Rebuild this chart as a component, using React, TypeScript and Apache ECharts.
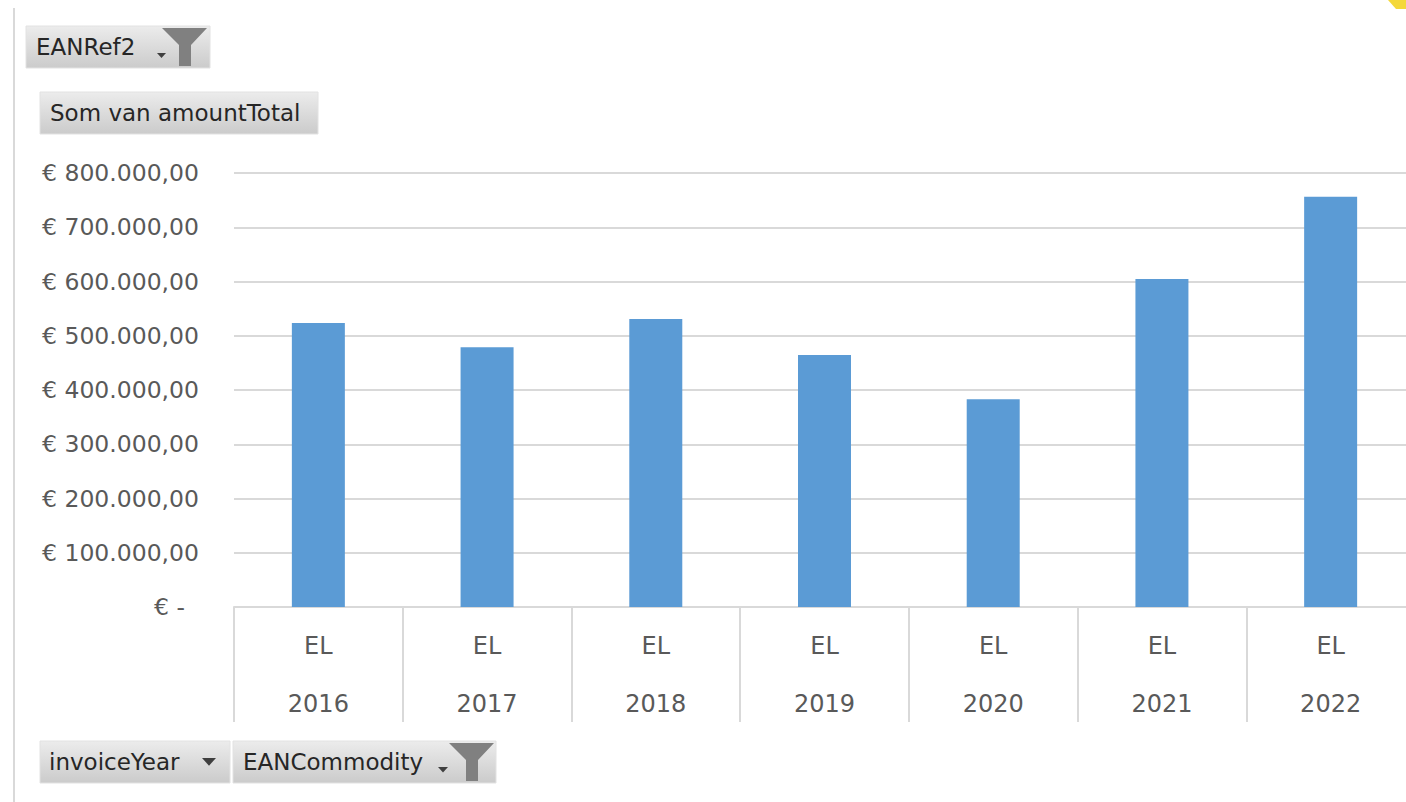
import React, { useEffect, useRef } from "react";
import * as echarts from "echarts";

const commodities = ["EL", "EL", "EL", "EL", "EL", "EL", "EL"];
const years = ["2016", "2017", "2018", "2019", "2020", "2021", "2022"];
const amountTotal = [523500, 479000, 531000, 464500, 383000, 604500, 756000];
const yTicks = { min: 0, max: 800000, interval: 100000 };

const FONT = "DejaVu Sans";

function fmtEuro(v: number): string {
  if (v === 0) return "{z|€ -}";
  const s = Math.round(v).toString().replace(/\B(?=(\d{3})+(?!\d))/g, ".");
  return "€ " + s + ",00";
}

function button(x: number, y: number, w: number, h: number, label: string, tx: number) {
  return [
    {
      type: "rect",
      shape: { x, y, width: w, height: h },
      style: {
        fill: new echarts.graphic.LinearGradient(0, 0, 0, 1, [
          { offset: 0, color: "#ececec" },
          { offset: 1, color: "#cbcbcb" },
        ]),
        stroke: "#e2e2e2",
        lineWidth: 1,
      },
    },
    {
      type: "text",
      x: tx,
      y: y + h / 2,
      style: {
        text: label,
        font: `23px "${FONT}"`,
        fill: "#262626",
        verticalAlign: "middle",
        align: "left",
      },
    },
  ];
}

function funnel(x: number, y: number) {
  return {
    type: "polygon",
    shape: {
      points: [
        [x, y],
        [x + 45, y],
        [x + 29, y + 17],
        [x + 29, y + 38],
        [x + 17, y + 38],
        [x + 17, y + 17],
      ],
    },
    style: { fill: "#808080" },
  };
}

function arrow(x: number, y: number, w: number) {
  return {
    type: "polygon",
    shape: { points: [[x, y], [x + w, y], [x + w / 2, y + w * 0.55]] },
    style: { fill: "#3f3f3f" },
  };
}

export default function App() {
  const ref = useRef<HTMLDivElement>(null);
  useEffect(() => {
    if (!ref.current) return;
    const chart = echarts.init(ref.current, undefined, { renderer: "svg" });
    const yLabel = { color: "#595959", fontFamily: FONT, fontSize: 23.5 };
    const xLabel = { color: "#595959", fontFamily: FONT, fontSize: 24 };
    chart.setOption({
      animation: false,
      backgroundColor: "#ffffff",
      grid: {
        left: 234,
        top: 173,
        width: 1181,
        height: 434,
        containLabel: false,
        outerBoundsMode: "none",
      },
      xAxis: [
        {
          type: "category",
          data: commodities,
          position: "bottom",
          axisLine: { show: true, lineStyle: { color: "#d9d9d9", width: 2 } },
          axisTick: {
            show: true,
            interval: 0,
            length: 115,
            lineStyle: { color: "#d9d9d9", width: 2 },
          },
          axisLabel: { ...xLabel, interval: 0, margin: 27 },
          splitLine: { show: false },
        },
        {
          type: "category",
          data: years,
          position: "bottom",
          offset: 58,
          axisLine: { show: false },
          axisTick: { show: false },
          axisLabel: { ...xLabel, interval: 0, margin: 27 },
          splitLine: { show: false },
        },
      ],
      yAxis: {
        type: "value",
        min: yTicks.min,
        max: yTicks.max,
        interval: yTicks.interval,
        axisLine: { show: false },
        axisTick: { show: false },
        splitLine: { show: true, lineStyle: { color: "#d9d9d9", width: 2 } },
        axisLabel: {
          ...yLabel,
          margin: 35,
          formatter: (v: number) => fmtEuro(v),
          rich: { z: { ...yLabel, padding: [0, 14, 0, 0] } },
        },
      },
      series: [
        {
          type: "bar",
          name: "Som van amountTotal",
          data: amountTotal,
          xAxisIndex: 0,
          barWidth: 53,
          itemStyle: { color: "#5b9bd5" },
        },
      ],
      graphic: [
        {
          type: "line",
          shape: { x1: 14, y1: 8, x2: 14, y2: 802 },
          style: { stroke: "#d9d9d9", lineWidth: 2 },
        },
        {
          type: "polygon",
          shape: { points: [[1388, 0], [1406, 0], [1406, 9], [1396, 9]] },
          style: { fill: "#f4d83a" },
        },
        ...button(26, 26, 184, 42, "EANRef2", 36),
        arrow(157, 53, 9),
        funnel(162, 28),
        ...button(40, 92, 278, 42, "Som van amountTotal", 50),
        ...button(40, 741, 190, 42, "invoiceYear", 49),
        arrow(202, 758, 14),
        ...button(233, 741, 263, 42, "EANCommodity", 243),
        arrow(438, 767, 10),
        funnel(449, 743),
      ],
    });
    return () => chart.dispose();
  }, []);
  return (
    <div
      ref={ref}
      style={{ position: "fixed", left: 0, top: 0, width: 1406, height: 802 }}
    />
  );
}
